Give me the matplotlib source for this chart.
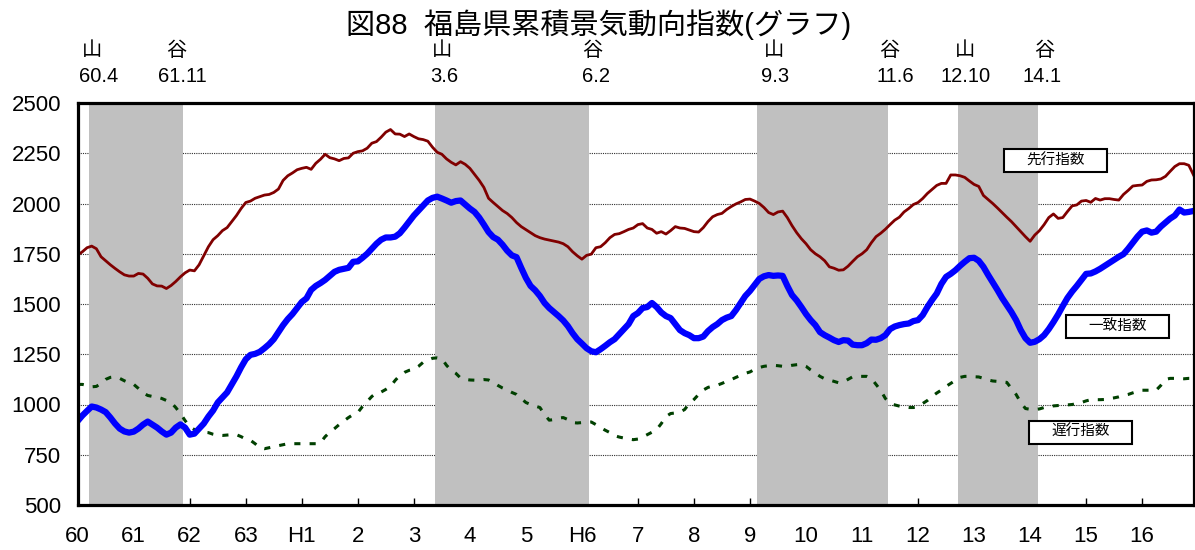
import matplotlib
matplotlib.use("Agg")
import matplotlib.pyplot as plt
import matplotlib.patches as mpatches
import numpy as np

plt.rcParams['font.family'] = ['Liberation Sans', 'Noto Sans CJK JP']

# Monthly values, S60.1 (1985) .. H16.12 (2004)
leading = [
    1743, 1760, 1780, 1788, 1775, 1735, 1715, 1695, 1677, 1660,
    1645, 1639, 1639, 1652, 1649, 1628, 1600, 1590, 1589, 1577,
    1592, 1612, 1635, 1655, 1669, 1665, 1695, 1740, 1785, 1820,
    1840, 1865, 1880, 1910, 1940, 1975, 2005, 2012, 2026, 2034,
    2042, 2045, 2055, 2072, 2115, 2138, 2152, 2168, 2175, 2180,
    2170, 2200, 2220, 2245, 2228, 2222, 2213, 2224, 2227, 2250,
    2258, 2262, 2275, 2300, 2308, 2330, 2355, 2368, 2346, 2345,
    2333, 2346, 2333, 2322, 2318, 2310, 2280, 2255, 2245, 2222,
    2205, 2192, 2208, 2195, 2175, 2145, 2115, 2080, 2026, 2005,
    1985, 1965, 1950, 1930, 1905, 1885, 1870, 1855, 1840, 1830,
    1823, 1818, 1813, 1808, 1800, 1785, 1760, 1740, 1723, 1742,
    1748, 1780, 1785, 1805, 1830, 1846, 1850, 1860, 1871, 1878,
    1895, 1900, 1878, 1871, 1852, 1860, 1848, 1865, 1885, 1878,
    1876, 1868, 1860, 1858, 1880, 1910, 1934, 1945, 1951, 1970,
    1985, 1998, 2008, 2020, 2022, 2012, 2000, 1980, 1955, 1945,
    1958, 1962, 1930, 1890, 1855, 1825, 1800, 1770, 1750, 1735,
    1715, 1685, 1678, 1668, 1670, 1688, 1712, 1735, 1750, 1770,
    1805, 1835, 1852, 1872, 1895, 1917, 1932, 1958, 1975, 1995,
    2005, 2025, 2050, 2070, 2090, 2100, 2100, 2142, 2142, 2138,
    2130, 2112, 2095, 2085, 2040, 2020, 2000, 1978, 1955, 1932,
    1910, 1885, 1860, 1835, 1812, 1843, 1865, 1895, 1930, 1948,
    1926, 1930, 1960, 1988, 1993, 2012, 2015, 2006, 2025, 2017,
    2024, 2024, 2020, 2017, 2045, 2065, 2087, 2090, 2092, 2110,
    2117, 2118, 2122, 2135, 2160, 2184, 2198, 2198, 2190, 2142,
]

coincident = [
    918, 945, 968, 990, 985, 975, 962, 935, 905, 880,
    866, 860, 865, 880, 900, 915, 900, 885, 866, 850,
    860, 885, 901, 885, 850, 855, 880, 905, 940, 970,
    1010, 1035, 1060, 1100, 1140, 1185, 1225, 1247, 1252, 1262,
    1280, 1300, 1325, 1360, 1395, 1425, 1450, 1480, 1510, 1528,
    1570, 1590, 1604, 1620, 1640, 1660, 1670, 1675, 1680, 1710,
    1712, 1730, 1750, 1775, 1800, 1820, 1831, 1831, 1835, 1852,
    1880, 1910, 1940, 1965, 1990, 2015, 2028, 2034, 2025, 2015,
    2004, 2012, 2015, 1995, 1975, 1958, 1930, 1895, 1858, 1833,
    1820, 1795, 1765, 1742, 1733, 1680, 1630, 1590, 1568, 1540,
    1505, 1480, 1460, 1440, 1418, 1390, 1355, 1325, 1303, 1280,
    1265, 1260, 1275, 1292, 1310, 1325, 1350, 1375, 1400, 1440,
    1455, 1480, 1485, 1505, 1485, 1458, 1440, 1430, 1400, 1370,
    1355, 1345, 1330, 1330, 1338, 1365, 1385, 1400, 1420, 1432,
    1440, 1470, 1505, 1540, 1565, 1595, 1625, 1638, 1644, 1640,
    1642, 1640, 1590, 1545, 1518, 1485, 1450, 1420, 1395, 1360,
    1345, 1333, 1320, 1311, 1320, 1318, 1298, 1295, 1295, 1305,
    1323, 1322, 1330, 1345, 1375, 1388, 1395, 1400, 1403, 1415,
    1420, 1445, 1485, 1520, 1552, 1600, 1635, 1650, 1668, 1690,
    1710, 1728, 1730, 1715, 1685, 1645, 1608, 1570, 1530, 1495,
    1460, 1420, 1370, 1330, 1307, 1312, 1325, 1345, 1375, 1410,
    1448, 1490, 1530, 1562, 1590, 1620, 1650, 1652, 1662, 1675,
    1690, 1705, 1720, 1735, 1748, 1775, 1805, 1835, 1860, 1866,
    1855, 1860, 1885, 1905, 1925, 1940, 1970, 1955, 1958, 1963,
]

lagging = [
    1100, 1100, 1095, 1088, 1090, 1105, 1125, 1135, 1138, 1130,
    1118, 1108, 1100, 1080, 1058, 1045, 1040, 1037, 1030, 1020,
    1010, 985, 955, 920, 890, 875, 866, 862, 860, 852,
    847, 846, 848, 850, 850, 840, 828, 822, 805, 785,
    780, 785, 790, 795, 800, 805, 805, 805, 805, 805,
    805, 805, 810, 840, 862, 880, 900, 918, 935, 950,
    960, 990, 1015, 1040, 1058, 1062, 1075, 1090, 1120, 1145,
    1160, 1170, 1175, 1190, 1210, 1220, 1230, 1232, 1228, 1195,
    1170, 1155, 1132, 1125, 1122, 1121, 1122, 1124, 1122, 1110,
    1095, 1082, 1072, 1060, 1050, 1030, 1010, 1000, 992, 985,
    950, 922, 925, 932, 935, 925, 910, 908, 910, 912,
    913, 900, 885, 872, 860, 845, 838, 833, 828, 825,
    828, 838, 850, 862, 875, 905, 940, 955, 958, 962,
    975, 1005, 1025, 1050, 1072, 1085, 1092, 1096, 1105, 1115,
    1124, 1135, 1145, 1155, 1162, 1175, 1184, 1190, 1193, 1195,
    1193, 1190, 1190, 1195, 1198, 1200, 1190, 1172, 1157, 1140,
    1128, 1122, 1115, 1108, 1112, 1125, 1138, 1140, 1140, 1140,
    1130, 1100, 1070, 1030, 1005, 998, 992, 988, 985, 985,
    990, 1005, 1020, 1040, 1057, 1072, 1090, 1105, 1120, 1135,
    1140, 1140, 1138, 1137, 1130, 1122, 1117, 1115, 1113, 1110,
    1080, 1050, 1010, 980, 976, 975, 978, 985, 990, 993,
    995, 996, 998, 1000, 1004, 1010, 1018, 1024, 1024, 1024,
    1025, 1030, 1033, 1038, 1045, 1050, 1058, 1065, 1071, 1071,
    1071, 1071, 1095, 1125, 1130, 1130, 1129, 1128, 1130, 1130,
]

year_labels = ['60', '61', '62', '63', 'H1', '2', '3', '4', '5', 'H6',
               '7', '8', '9', '10', '11', '12', '13', '14', '15', '16']

# business cycle turning points (山 = peak, 谷 = trough)
turn_kinds = ['山', '谷', '山', '谷', '山', '谷', '山', '谷']
turn_dates = ['60.4', '61.11', '3.6', '6.2', '9.3', '11.6', '12.10', '14.1']
# recession shading, in month index
shade_start = [2.5, 76.5, 145.5, 188.5]
shade_end = [22.5, 109.5, 173.5, 205.6]

W, H = 1195, 550
fig = plt.figure(figsize=(W / 100, H / 100), dpi=100)
fig.patch.set_facecolor('white')
ax = fig.add_axes([77.7 / W, 1 - 505 / H, (1193.5 - 77.7) / W, (505 - 103) / H])

months = np.arange(len(leading))

for s, e in zip(shade_start, shade_end):
    ax.axvspan(s, e, color='#C0C0C0', lw=0, zorder=1)

ax.plot(months, lagging, color='#004000', lw=2.2, dashes=(2, 3), zorder=3)
ax.plot(months, leading, color='#800000', lw=2, zorder=4)
ax.plot(months, coincident, color='#0000FF', lw=4.5, zorder=5)

ax.set_xlim(0, len(leading) - 1)
ax.set_ylim(500, 2500)
ax.set_yticks(range(500, 2501, 250))
ax.set_xticks(range(0, 12 * len(year_labels), 12))
ax.set_xticklabels(year_labels)
ax.tick_params(axis='x', direction='in', length=5, width=1, pad=15, labelsize=16)
ax.tick_params(axis='y', length=0, pad=12, labelsize=16)
ax.grid(axis='y', color='#303030', lw=0.8, linestyle=(0, (1, 1)))
ax.set_axisbelow(True)
for sp in ax.spines.values():
    sp.set_linewidth(2.3)
    sp.set_zorder(6)

# title
fig.text(599 / W, 1 - 25 / H, '図88  福島県累積景気動向指数(グラフ)',
         ha='center', va='center', fontsize=21)

# peak / trough labels above the plot
kind_x = [82, 166, 432, 582, 764, 879, 955, 1034]
date_x = [79, 158, 430, 582, 761, 877, 940, 1023]
for k, d, kx, dx in zip(turn_kinds, turn_dates, kind_x, date_x):
    fig.text(kx / W, 1 - 50.5 / H, k, ha='left', va='center', fontsize=14.5)
    fig.text(dx / W, 1 - 77 / H, d, ha='left', va='center', fontsize=14.5)

# series name boxes
boxes = [('先行指数', 1004, 149), ('一致指数', 1066, 315), ('遅行指数', 1029, 421)]
bw, bh = 103, 22.5
for name, x0, y0 in boxes:
    rect = mpatches.Rectangle((x0 / W, 1 - (y0 + bh) / H), bw / W, bh / H,
                              transform=fig.transFigure, facecolor='white',
                              edgecolor='black', lw=1.5, zorder=10)
    fig.add_artist(rect)
    fig.text((x0 + bw / 2) / W, 1 - (y0 + bh / 2) / H, name,
             ha='center', va='center', fontsize=10.5, zorder=11)

fig.savefig('out.png', dpi=100, facecolor='white')
plt.close(fig)
